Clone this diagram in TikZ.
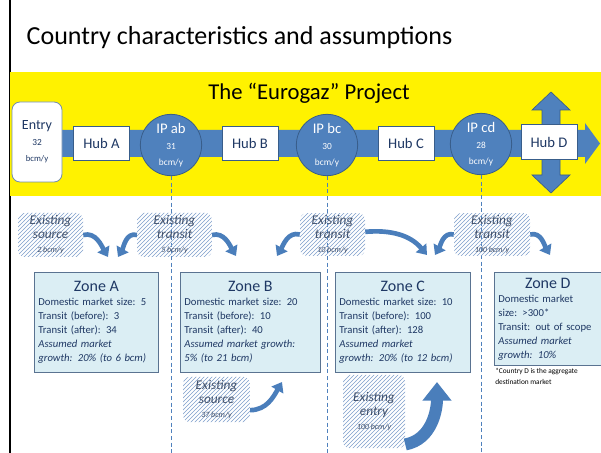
\documentclass[tikz,border=0pt]{standalone}
\usepackage{fontspec}
\setmainfont{Carlito}
\usetikzlibrary{positioning,patterns,arrows.meta}
\definecolor{gazblue}{HTML}{4F81BD}
\definecolor{gazedge}{HTML}{385D8A}
\definecolor{gazink}{HTML}{1F3864}
\definecolor{zonefill}{HTML}{DBEEF4}
\definecolor{zoneedge}{HTML}{5A7391}
\definecolor{hatchblue}{HTML}{7F9FCB}
\definecolor{hatchink}{HTML}{3F4F6A}
\definecolor{flowblue}{HTML}{4A7EBB}
\newcommand{\zonettl}{\fontsize{12}{15}\selectfont}
\tikzset{hub box/.style={rectangle,draw=gazedge,fill=white,line width=0.6pt,minimum width=42pt,minimum height=26pt,text=gazink,font=\fontsize{11}{12}\selectfont},
  ip node/.style={circle,draw=gazedge,fill=gazblue,line width=0.6pt,minimum size=46pt,inner sep=0pt,text=white,align=center},
  zone box/.style={rectangle,draw=zoneedge,fill=zonefill,line width=0.6pt,anchor=north west,align=left,text=gazink,inner xsep=3pt,inner ysep=2pt,font=\fontsize{8}{10.5}\selectfont},
  exist box/.style={rectangle,rounded corners=5pt,pattern=north east lines,pattern color=hatchblue,text=hatchink,align=center,inner sep=1pt,font=\itshape\fontsize{10}{10.5}\selectfont},
  flow/.style={draw=flowblue,line width=3.5pt,-{Triangle[width=10pt,length=7pt]}},
  ip line/.style={draw=gazblue,densely dashed,line width=0.6pt}}

\begin{document}
\begin{tikzpicture}[x=0.75pt,y=0.75pt]
        \useasboundingbox (0,0) rectangle (601,-453);
        \draw[black,line width=1.5pt] (10,0) -- (10,-453);
        \node[anchor=west,font=\fontsize{19.5}{22}\selectfont] (title) at (22,-38) {Country characteristics and assumptions};
        
        % the project band
        \fill[yellow] (10,-72) rectangle (601,-196);
        \node[font=\fontsize{17}{19}\selectfont] (project) at (309,-93) {The “Eurogaz” Project};
        \fill[gazblue] (12,-130) -- (585,-130) -- (585,-123) -- (600,-143.5) -- (585,-164) -- (585,-157) -- (12,-157) -- cycle;
        \filldraw[fill=gazblue,draw=gazedge,line width=0.5pt] (542,-110) -- (532,-110) -- (551,-92) -- (570,-110) -- (560,-110) -- (560,-175) -- (570,-175) -- (551,-193) -- (532,-175) -- (542,-175) -- cycle;
        
        \node[rectangle,rounded corners=6pt,draw=gazedge!70,fill=white,line width=0.6pt,minimum width=37.5pt,minimum height=60pt,align=center,text=gazink,inner sep=1pt] (entry) at (37,-142) {{\fontsize{10.5}{12}\selectfont Entry}\\{\fontsize{7}{9}\selectfont 32}\\{\fontsize{6.5}{8}\selectfont bcm/y}};
        \node[hub box] (hubA) at (101.5,-143.5) {Hub A};
        \node[ip node] (ipab) at (171,-145) {{\fontsize{11}{12}\selectfont IP ab}\\{\fontsize{7}{10}\selectfont 31}\\{\fontsize{7}{8}\selectfont bcm/y}};
        \node[hub box] (hubB) at (250,-143.5) {Hub B};
        \node[ip node] (ipbc) at (327,-145) {{\fontsize{11}{12}\selectfont IP bc}\\{\fontsize{7}{10}\selectfont 30}\\{\fontsize{7}{8}\selectfont bcm/y}};
        \node[hub box] (hubC) at (406,-143.5) {Hub C};
        \node[ip node] (ipcd) at (481,-144) {{\fontsize{11}{12}\selectfont IP cd}\\{\fontsize{7}{10}\selectfont 28}\\{\fontsize{7}{8}\selectfont bcm/y}};
        \node[hub box] (hubD) at (549,-142) {Hub D};
        
        % interconnection points down the page
        \coordinate (ablow) at (171,-453);
        \coordinate (bclow) at (327,-453);
        \coordinate (cdlow) at (481,-453);
        \draw[ip line] (ipab) -- (ablow);
        \draw[ip line] (ipbc) -- (bclow);
        \draw[ip line] (ipcd) -- (cdlow);
        
        % existing flows
        \node[exist box,minimum width=48.75pt,minimum height=33pt] (srcA) at (50.5,-235) {Existing\\source\\{\fontsize{6}{7}\selectfont 2 bcm/y}};
        \node[exist box,minimum width=56pt,minimum height=33pt] (trnAB) at (174.5,-235) {Existing\\transit\\{\fontsize{6}{7}\selectfont 5 bcm/y}};
        \node[exist box,minimum width=48.75pt,minimum height=32pt] (trnBC) at (332.5,-234.5) {Existing\\transit\\{\fontsize{6}{7}\selectfont 10 bcm/y}};
        \node[exist box,minimum width=57pt,minimum height=32pt] (trnCD) at (492,-234.5) {Existing\\transit\\{\fontsize{6}{7}\selectfont 100 bcm/y}};
        \node[exist box,minimum width=50pt,minimum height=34pt] (srcB) at (216.5,-399.5) {Existing\\source\\{\fontsize{6}{7}\selectfont 37 bcm/y}};
        \node[exist box,minimum width=46.5pt,minimum height=55pt] (entC) at (374,-411.5) {Existing\\entry\\{\fontsize{6}{7}\selectfont 100 bcm/y}};
        
        \coordinate (inA1) at (108,-257);
        \coordinate (inA2) at (118,-257);
        \coordinate (inB1) at (236,-256);
        \coordinate (inB2) at (277,-256);
        \coordinate (inC1) at (427,-255);
        \coordinate (inC2) at (435,-255);
        \coordinate (inD) at (550,-255);
        \coordinate (upB) at (282,-382);
        \coordinate (upC) at (437,-382);
        \draw[flow] (srcA.east) to[out=15,in=120] (inA1);
        \draw[flow] (trnAB.west) to[out=165,in=60] (inA2);
        \draw[flow] (trnAB.east) to[out=15,in=120] (inB1);
        \draw[flow] (trnBC.west) to[out=165,in=60] (inB2);
        \draw[flow] ([yshift=2pt]trnBC.east) to[out=5,in=130] (inC1);
        \draw[flow] (trnCD.west) to[out=165,in=60] (inC2);
        \draw[flow] (trnCD.east) to[out=15,in=120] (inD);
        \draw[flow] ([yshift=-8pt]srcB.east) to[out=0,in=-120] (upB);
        \draw[draw=flowblue,line width=9pt,-{Triangle[width=21pt,length=14pt]}] ([yshift=3pt]entC.south east) to[out=10,in=-90] (upC);
        
        % zones
        \node[zone box,text width=87pt,minimum height=75pt] (zoneA) at (34,-272) {{\centering\zonettl Zone A\par}Domestic market size: 5\\Transit (before): 3\\Transit (after): 34\\\textit{Assumed market}\\\textit{growth: 20\% (to 6 bcm)}};
        \node[zone box,text width=99pt,minimum height=75pt] (zoneB) at (180,-272) {{\centering\zonettl Zone B\par}Domestic market size: 20\\Transit (before): 10\\Transit (after): 40\\\textit{Assumed market growth:}\\\textit{5\%  (to 21 bcm)}};
        \node[zone box,text width=95pt,minimum height=75pt] (zoneC) at (335,-272) {{\centering\zonettl Zone C\par}Domestic market size: 10\\Transit (before): 100\\Transit (after): 128\\\textit{Assumed market}\\\textit{growth: 20\%  (to 12 bcm)}};
        \node[zone box,text width=74pt,minimum height=70pt] (zoneD) at (494,-272) {{\centering\zonettl Zone D\par}Domestic market\\size: >300*\\Transit:  out of scope\\\textit{Assumed market}\\\textit{growth: 10\%}};
        \node[anchor=north west,align=left,inner sep=0pt,font=\fontsize{5.5}{8}\selectfont] (note) at (495,-368) {*Country D is the aggregate\\destination market};
\end{tikzpicture}
\end{document}
